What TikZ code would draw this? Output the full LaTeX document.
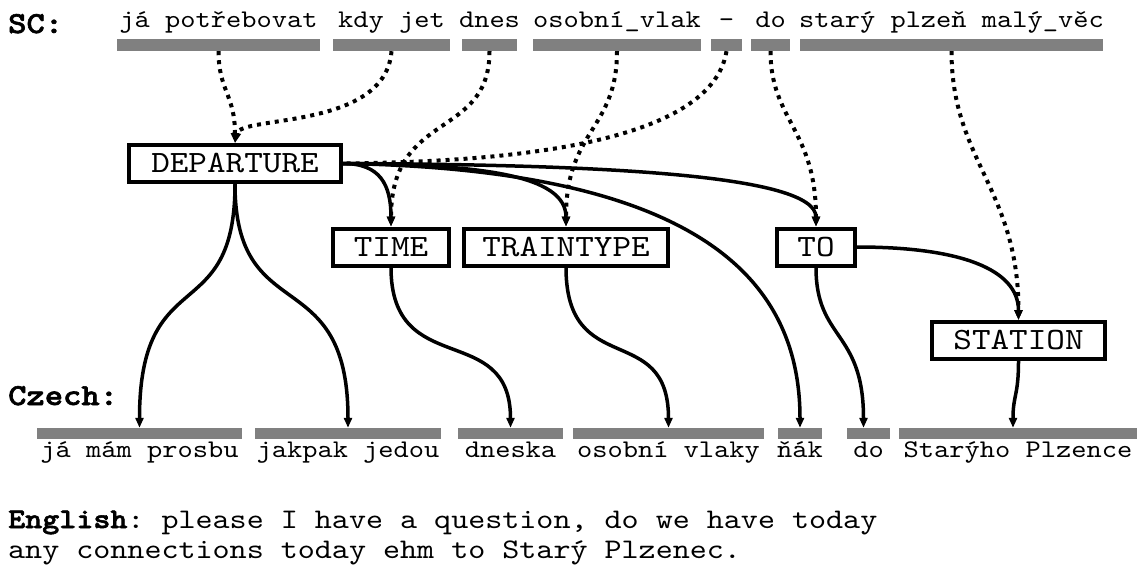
\documentclass[tikz,border=0pt]{standalone}
\usepackage{fontspec}
\setmonofont{lmmono10-regular.otf}[FakeStretch=1.143, BoldFont=lmmonolt10-bold.otf, BoldFeatures={FakeStretch=1.143, FakeBold=2}]
\usetikzlibrary{arrows.meta,calc}
\definecolor{bargray}{HTML}{808080}
\begin{document}
\begin{tikzpicture}[x=1pt,y=-1pt,
  bar/.style={fill=bargray, inner sep=0pt, minimum height=12pt},
  wtext/.style={font=\fontsize{25.4}{28}\selectfont\ttfamily, inner sep=0pt, anchor=base},
  lab/.style={font=\fontsize{30.5}{34}\selectfont\ttfamily\bfseries, inner sep=0pt, anchor=base west},
  entext/.style={font=\fontsize{28.4}{32}\selectfont\ttfamily, inner sep=0pt, anchor=base west},
  box/.style={draw, line width=4pt, inner sep=0pt, font=\fontsize{31}{34}\selectfont\ttfamily, minimum height=37pt},
  sarr/.style={line width=3.5pt, -{Triangle[length=10pt,width=8pt]}},
  darr/.style={line width=4pt, dash pattern=on 4pt off 5pt, -{Triangle[length=10pt,width=8pt]}},
  dline/.style={line width=4pt, dash pattern=on 4pt off 5pt},
]
\useasboundingbox (0,0) rectangle (1138,568);

% labels
\node[lab] (lsc) at (8,33) {SC:};
\node[lab] (lcz) at (8,405) {Czech:};
\node[entext] (en1) at (8,528) {\textbf{English}: please I have a question, do we have today};
\node[entext] (en2) at (8,558) {any connections today ehm to Starý Plzenec.};

% SC bars and words
\node[bar, minimum width=203pt] (s1) at (218.5,45) {};
\node[bar, minimum width=117pt] (s2) at (391.5,45) {};
\node[bar, minimum width=55pt]  (s3) at (489.5,45) {};
\node[bar, minimum width=168pt] (s4) at (617,45) {};
\node[bar, minimum width=31pt]  (s5) at (726.5,45) {};
\node[bar, minimum width=39pt]  (s6) at (770.5,45) {};
\node[bar, minimum width=303pt] (s7) at (951.5,45) {};
\node[wtext] (s1t) at (218.5,27) {já potřebovat};
\node[wtext] (s2t) at (391.5,27) {kdy jet};
\node[wtext] (s3t) at (489.5,27) {dnes};
\node[wtext] (s4t) at (617,27) {osobní\_vlak};
\node[wtext] (s5t) at (726.5,27) {-};
\node[wtext] (s6t) at (770.5,27) {do};
\node[wtext] (s7t) at (951.5,27) {starý plzeň malý\_věc};

% Czech bars and words
\node[bar, minimum width=205pt, minimum height=11pt] (c1) at (139.5,433.5) {};
\node[bar, minimum width=186pt, minimum height=11pt] (c2) at (348,433.5) {};
\node[bar, minimum width=105pt, minimum height=11pt] (c3) at (510.5,433.5) {};
\node[bar, minimum width=191pt, minimum height=11pt] (c4) at (668.5,433.5) {};
\node[bar, minimum width=44pt, minimum height=11pt]  (c5) at (800,433.5) {};
\node[bar, minimum width=43pt, minimum height=11pt]  (c6) at (868.5,433.5) {};
\node[bar, minimum width=238pt, minimum height=11pt] (c7) at (1018,433.5) {};
\node[wtext] (c1t) at (139.5,457) {já mám prosbu};
\node[wtext] (c2t) at (348,457) {jakpak jedou};
\node[wtext] (c3t) at (510.5,457) {dneska};
\node[wtext] (c4t) at (668.5,457) {osobní vlaky};
\node[wtext] (c5t) at (800,457) {ňák};
\node[wtext] (c6t) at (868.5,457) {do};
\node[wtext] (c7t) at (1018,457) {Starýho Plzence};

% concept boxes
\node[box, minimum width=212pt] (dep) at (235,163.5) {DEPARTURE};
\node[box, minimum width=116pt] (time) at (391,247) {TIME};
\node[box, minimum width=204pt] (tt) at (566,247) {TRAINTYPE};
\node[box, minimum width=78pt] (to) at (816,247) {TO};
\node[box, minimum width=173pt] (st) at (1018.5,340.5) {STATION};

% solid connectors
\draw[sarr] (dep.south) .. controls +(0,146) and +(0,-168) .. (c1.north);
\draw[sarr] (dep.south) .. controls +(0,146) and +(0,-168) .. (c2.north);
\draw[sarr] (dep.east) .. controls +(37,0) and +(0,-42) .. (time.north);
\draw[sarr] (dep.east) .. controls +(137,1) and +(0,-52) .. (tt.north);
\draw[sarr] (dep.east) .. controls +(357,6) and +(0,-148) .. (c5.north);
\draw[sarr] (dep.east) .. controls +(257,1) and +(0,-52) .. (to.north);
\draw[sarr] (time.south) .. controls +(0,113) and +(0,-108) .. (c3.north);
\draw[sarr] (tt.south) .. controls +(0,113) and +(0,-108) .. (c4.north);
\draw[sarr] (to.south) .. controls +(0,73) and +(0,-98) .. ([xshift=-5pt]c6.north);
\draw[sarr] (to.east) .. controls +(103,0) and +(0,-51) .. (st.north);
\draw[sarr] (st.south) .. controls +(0,35) and +(0,-33) .. ([xshift=-5pt]c7.north);

% dotted connectors
\draw[darr] (s1.south) .. controls +(0,39) and +(0,-48) .. (dep.north);
\draw[darr] (s2.south) .. controls +(-6,79) and +(5,-28) .. (dep.north);
\draw[darr] (s3.south) .. controls +(0,89) and +(0,-117) .. (time.north);
\draw[darr] (s4.south) .. controls +(0,79) and +(0,-97) .. (tt.north);
\draw[dline] (s5.south) .. controls +(-16,99) and +(137,-1.5) .. (dep.east);
\draw[darr] (s6.south) .. controls +(0,69) and +(0,-97) .. (to.north);
\draw[darr] (s7.south) .. controls +(0,109) and +(0,-131) .. (st.north);
\end{tikzpicture}
\end{document}
